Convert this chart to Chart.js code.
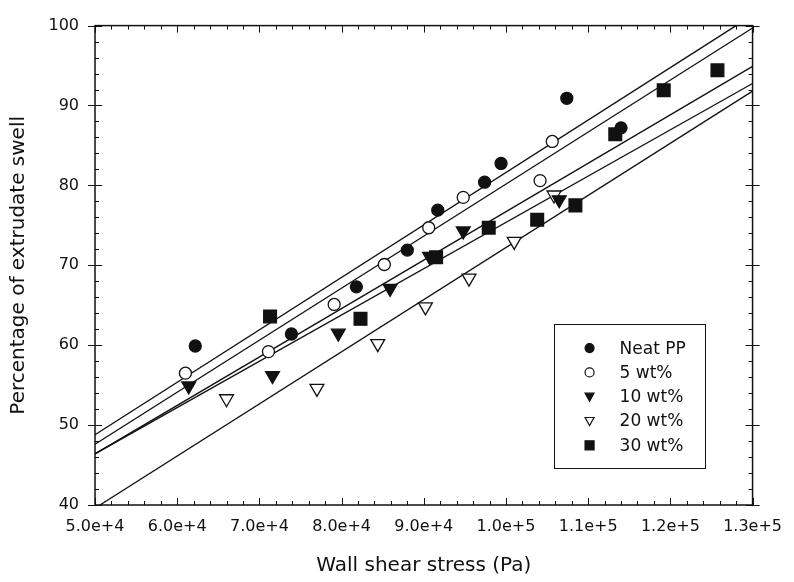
<!DOCTYPE html>
<html><head><meta charset="utf-8">
<script src="https://cdn.jsdelivr.net/npm/chart.js@4.4.1/dist/chart.umd.min.js"></script>
<style>html,body{margin:0;padding:0;background:#fff}</style>
</head><body>
<canvas id="c" width="794" height="582"></canvas>
<script>
// ---- data ----
const seriesNames = ['Neat PP', '5 wt%', '10 wt%', '20 wt%', '30 wt%'];

const neatX = [62200, 73900, 81800, 88000, 91700, 97400, 99400, 107400, 114000];
const neatY = [59.9, 61.4, 67.3, 71.9, 76.9, 80.4, 82.75, 90.9, 87.2];

const wt5X = [61000, 71100, 79100, 85200, 90600, 94800, 104150, 105630];
const wt5Y = [56.5, 59.2, 65.1, 70.1, 74.7, 78.5, 80.6, 85.5];

const wt10X = [61400, 71600, 79600, 85900, 90700, 94800, 106480];
const wt10Y = [54.9, 56.2, 61.5, 67.1, 71.1, 74.3, 78.2];

const wt20X = [66000, 77000, 84400, 90200, 95500, 101000, 105840];
const wt20Y = [53.3, 54.6, 60.2, 64.8, 68.4, 73.0, 78.8];

const wt30X = [71300, 82300, 91500, 97900, 103800, 108450, 113300, 119190, 125730];
const wt30Y = [63.6, 63.3, 71.0, 74.7, 75.7, 77.5, 86.4, 91.9, 94.4];

// fitted straight lines (start / end points)
const fitStartX = [50000, 50000, 50000, 50000, 50600];
const fitStartY = [48.8, 47.6, 46.4, 46.4, 40.0];
const fitEndX   = [128000, 130000, 130000, 130000, 130000];
const fitEndY   = [100.0, 99.7, 94.9, 92.75, 91.8];

const xTicks = [50000, 60000, 70000, 80000, 90000, 100000, 110000, 120000, 130000];
const yTicks = [40, 50, 60, 70, 80, 90, 100];

// ---- build datasets ----
const ink = '#111';
function pts(xs, ys) { return xs.map((x, i) => ({ x: x, y: ys[i] })); }
const markerStyles = [
  { pointStyle: 'circle', radius: 6, rotation: 0, fill: ink },
  { pointStyle: 'circle', radius: 6, rotation: 0, fill: '#fff' },
  { pointStyle: 'triangle', radius: 8, rotation: 180, fill: ink },
  { pointStyle: 'triangle', radius: 8, rotation: 180, fill: '#fff' },
  { pointStyle: 'rect', radius: 9, rotation: 0, fill: ink }
];
const seriesData = [pts(neatX, neatY), pts(wt5X, wt5Y), pts(wt10X, wt10Y), pts(wt20X, wt20Y), pts(wt30X, wt30Y)];

const datasets = [];
fitStartX.forEach((x0, i) => {
  datasets.push({
    type: 'line', label: 'fit ' + (i + 1),
    data: [{ x: x0, y: fitStartY[i] }, { x: fitEndX[i], y: fitEndY[i] }],
    borderColor: ink, borderWidth: 1.3, pointRadius: 0, fill: false, order: 10
  });
});
seriesNames.forEach((name, i) => {
  const m = markerStyles[i];
  datasets.push({
    type: 'scatter', label: name, data: seriesData[i],
    pointStyle: m.pointStyle, pointRadius: m.radius, pointRotation: m.rotation,
    pointBackgroundColor: m.fill, pointBorderColor: ink, pointBorderWidth: 1.3,
    pointHoverRadius: m.radius, order: 1
  });
});

// ---- plugin: frame, inward ticks, legend ----
const framePlugin = {
  id: 'frame',
  afterDraw(chart) {
    const { ctx, chartArea: a, scales: { x, y } } = chart;
    ctx.save();
    ctx.strokeStyle = ink;
    ctx.lineWidth = 1.5;
    ctx.strokeRect(a.left, a.top, a.right - a.left, a.bottom - a.top);
    ctx.lineWidth = 1;
    ctx.beginPath();
    for (let v = x.min; v <= x.max + 1; v += 2000) {
      const p = Math.round(x.getPixelForValue(v)) + 0.5;
      const major = Math.abs(v % 10000) < 1;
      const L = major ? 7 : 4;
      ctx.moveTo(p, a.bottom); ctx.lineTo(p, a.bottom - L);
      ctx.moveTo(p, a.top); ctx.lineTo(p, a.top + L);
    }
    for (let v = y.min; v <= y.max + 0.01; v += 2) {
      const p = Math.round(y.getPixelForValue(v)) + 0.5;
      const major = Math.abs(v % 10) < 0.01;
      const L = major ? 7 : 4;
      const O = major ? 7 : 0;
      ctx.moveTo(a.left - O, p); ctx.lineTo(a.left + L, p);
      ctx.moveTo(a.right + O, p); ctx.lineTo(a.right - L, p);
    }
    ctx.stroke();

    // legend box
    const bx = a.right - 199, by = a.top + 298, bw = 151, bh = 144;
    ctx.lineWidth = 1;
    ctx.strokeRect(Math.round(bx) + 0.5, Math.round(by) + 0.5, bw, bh);
    ctx.font = '17px "DejaVu Sans", sans-serif';
    ctx.textBaseline = 'middle';
    ctx.textAlign = 'left';
    seriesNames.forEach((name, i) => {
      const m = markerStyles[i];
      const cy = by + 24.5 + i * 24.3;
      const cx = bx + 36;
      ctx.fillStyle = m.fill; ctx.strokeStyle = ink; ctx.lineWidth = 1.2;
      ctx.beginPath();
      if (m.pointStyle === 'circle') {
        ctx.arc(cx, cy, 4.5, 0, Math.PI * 2);
      } else if (m.pointStyle === 'triangle') {
        ctx.moveTo(cx - 4.5, cy - 3.5); ctx.lineTo(cx + 4.5, cy - 3.5); ctx.lineTo(cx, cy + 4.5); ctx.closePath();
      } else {
        ctx.rect(cx - 4.5, cy - 4.5, 9, 9);
      }
      ctx.fill(); ctx.stroke();
      ctx.fillStyle = ink;
      ctx.fillText(name, bx + 66, cy + 1);
    });
    ctx.restore();
  }
};

new Chart(document.getElementById('c'), {
  data: { datasets: datasets },
  options: {
    responsive: false, animation: false,
    layout: { padding: { top: 21, right: 34, bottom: 0, left: 0 } },
    plugins: { legend: { display: false }, tooltip: { enabled: false } },
    scales: {
      x: {
        type: 'linear', min: 50000, max: 130000,
        afterBuildTicks(s) { s.ticks = xTicks.map(v => ({ value: v })); },
        afterFit(s) { s.height = 77; },
        grid: { display: false, drawTicks: false },
        border: { display: false },
        ticks: { padding: 12, color: ink, font: { family: 'DejaVu Sans', size: 16 },
                 maxRotation: 0, autoSkip: false,
                 callback: v => Number(v).toExponential(1) },
        title: { display: true, text: 'Wall shear stress (Pa)', color: ink,
                 font: { family: 'DejaVu Sans', size: 20 }, padding: { top: 0, bottom: 4 } }
      },
      y: {
        type: 'linear', min: 40, max: 100,
        afterBuildTicks(s) { s.ticks = yTicks.map(v => ({ value: v })); },
        afterFit(s) { s.width = 95; },
        grid: { display: false, drawTicks: false },
        border: { display: false },
        ticks: { padding: 16, color: ink, font: { family: 'DejaVu Sans', size: 16 } },
        title: { display: true, text: 'Percentage of extrudate swell', color: ink,
                 font: { family: 'DejaVu Sans', size: 20 }, padding: { top: 7, bottom: 0 } }
      }
    }
  },
  plugins: [framePlugin]
});
</script>
</body></html>
